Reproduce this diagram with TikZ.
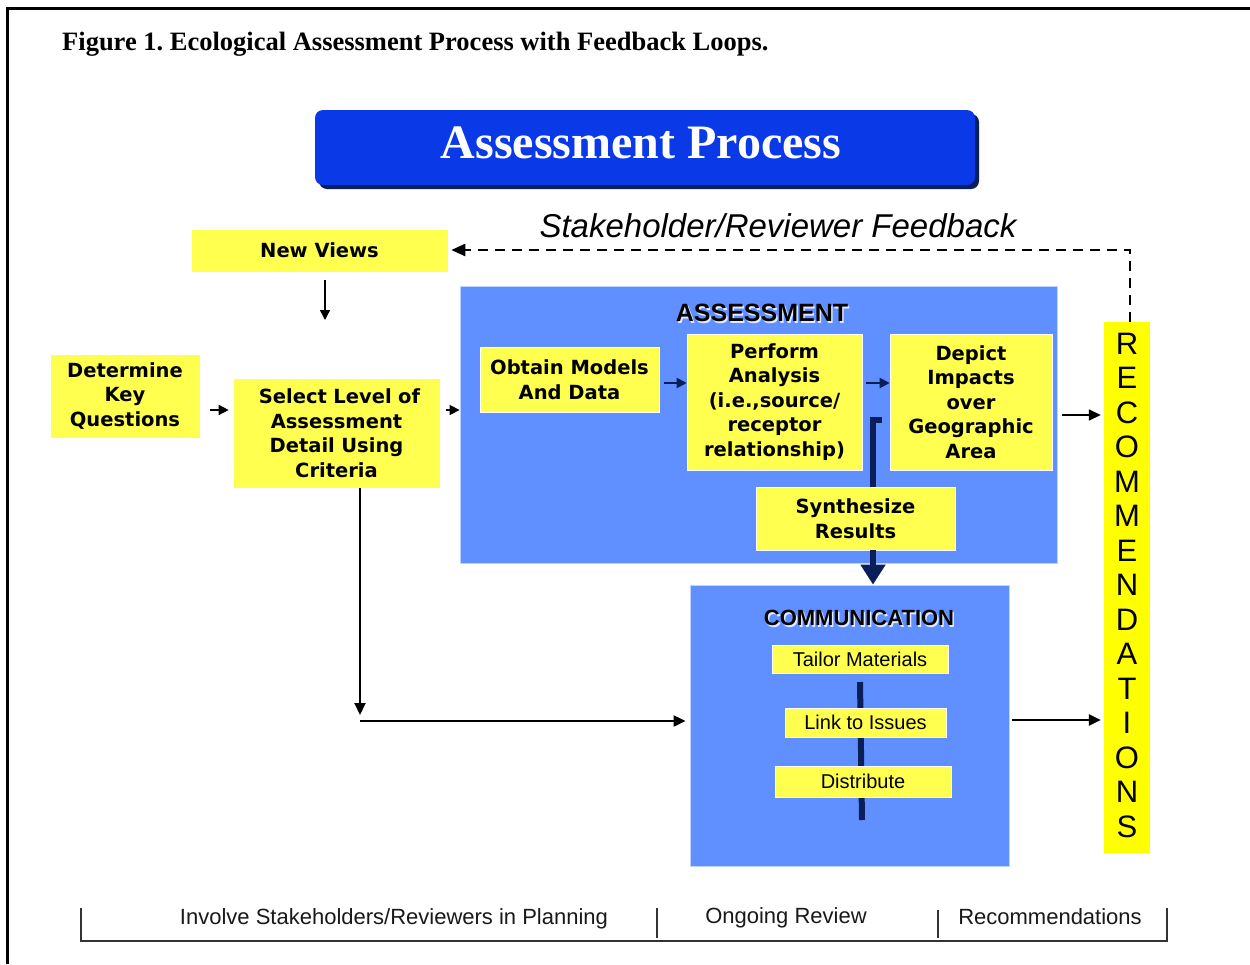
\documentclass[tikz,border=0pt]{standalone}
\usepackage{fontspec}
\setmainfont{Liberation Serif}
\newfontfamily\arial{Liberation Sans}
\newfontfamily\dejav{DejaVu Sans}
\usetikzlibrary{arrows.meta,calc}
\definecolor{yel}{HTML}{FFFF50}
\definecolor{recyel}{HTML}{FFFF00}
\definecolor{panelblue}{HTML}{6090FF}
\definecolor{bannerblue}{HTML}{0A3AE8}
\definecolor{bannershadow}{HTML}{0B1F5E}
\definecolor{navy}{HTML}{0A1E5A}
\frenchspacing
\begin{document}
\begin{tikzpicture}[x=1pt,y=-1pt,
  ybox/.style={fill=yel, inner sep=0pt, align=center, draw=white, line width=0.6pt,
    font=\dejav\bfseries\fontsize{19.5}{24.5}\selectfont},
  cbox/.style={fill=yel, inner sep=0pt, draw=white, line width=0.8pt,
    font=\arial\fontsize{20}{24}\selectfont},
  panel/.style={fill=panelblue, inner sep=0pt, draw=white!60!panelblue, line width=0.8pt},
  blk/.style={draw=black, line width=2pt, -{Triangle[length=12pt,width=11pt]}},
  smallblk/.style={draw=black, line width=1.5pt, -{Triangle[length=10pt,width=10pt]}},
  nvy/.style={draw=navy, line width=2pt, -{Triangle[length=10pt,width=10pt]}},
  ptitle/.style={inner sep=0pt, font=\arial\bfseries\fontsize{25}{30}\selectfont},
  tline/.style={draw=black!80, line width=1.6pt},
  ttext/.style={inner sep=0pt, font=\arial\fontsize{22}{26}\selectfont, text=black!90},
]
\useasboundingbox (0,0) rectangle (1250,964);
\fill[white] (0,0) rectangle (1250,964);
% outer frame
\draw[line width=3pt] (7,964) -- (7,8) -- (1250,8);
% caption
\node[anchor=base west, inner sep=0pt, font=\bfseries\fontsize{26.5}{30}\selectfont] (caption) at (62,50)
  {Figure 1. Ecological Assessment Process with Feedback Loops.};
% banner
\fill[bannershadow, rounded corners=8pt] (319,114) rectangle (979,189);
\node[fill=bannerblue, rounded corners=8pt, minimum width=660pt, minimum height=75pt, inner sep=0pt] (banner) at (645,147.5) {};
\node[text=white, inner sep=0pt, font=\bfseries\fontsize{48}{52}\selectfont] (bannertext) at (641,143) {Assessment Process};
% feedback label
\node[inner sep=0pt, font=\arial\itshape\fontsize{33}{37}\selectfont] (fblabel) at (778,226) {Stakeholder/Reviewer Feedback};
% panels
\node[panel, minimum width=597pt, minimum height=277pt] (assess) at (758.5,424.5) {};
\node[panel, minimum width=319pt, minimum height=281pt] (comm) at (849.5,725.5) {};
\node[ptitle, text=white!80!panelblue] at (763.5,314.5) {ASSESSMENT};
\node[ptitle] (assesstitle) at (762,313) {ASSESSMENT};
\node[ptitle, text=white!80!panelblue, font=\arial\bfseries\fontsize{22}{26}\selectfont] at (860.5,619.5) {COMMUNICATION};
\node[ptitle, font=\arial\bfseries\fontsize{22}{26}\selectfont] (commtitle) at (859,618) {COMMUNICATION};
% left boxes
\node[ybox, minimum width=257pt, minimum height=43pt] (nv) at (319.5,250.5) {New Views};
\node[ybox, minimum width=150pt, minimum height=84pt] (det) at (125,396) {Determine\\Key\\Questions};
\node[ybox, minimum width=207pt, minimum height=110pt, text width=207pt] (sel) at (336.5,433) {\hspace*{6pt}Select Level of\\Assessment\\Detail Using\\Criteria};
% assessment boxes
\node[ybox, minimum width=179pt, minimum height=65pt] (obt) at (569.5,379.5) {Obtain Models\\And Data};
\node[ybox, minimum width=175pt, minimum height=136pt] (perf) at (774.5,402) {Perform\\Analysis\\(i.e.,source/\\receptor\\relationship)};
\node[ybox, minimum width=162pt, minimum height=136pt] (dep) at (971,402) {Depict\\Impacts\\over\\Geographic\\Area};
\coordinate (hook) at (882,420);
\draw[navy, line width=6pt] (hook) -- (873,420) -- (873,488);
\node[ybox, minimum width=199pt, minimum height=63pt] (syn) at (855.5,518.5) {Synthesize\\Results};
% communication inner
\coordinate (ctop) at (860,682);
\coordinate (cbot) at (862,820);
\draw[navy, line width=6pt] (ctop) -- (cbot);
\node[cbox, minimum width=176pt, minimum height=28pt] (tail) at (860,659) {Tailor Materials};
\node[cbox, minimum width=161pt, minimum height=29pt] (link) at (865.5,722.5) {Link to Issues};
\node[cbox, minimum width=176pt, minimum height=31pt] (dist) at (863,781.5) {Distribute};
% recommendations
\node[fill=recyel, inner sep=0pt, minimum width=46pt, minimum height=531pt] (rec) at (1127,587.5) {};
\node[inner sep=0pt, align=center, font=\arial\fontsize{31}{34.5}\selectfont] (rectext) at (1127,585)
  {R\\E\\C\\O\\M\\M\\E\\N\\D\\A\\T\\I\\O\\N\\S};
% connectors
\coordinate (nvend) at (325,320);
\draw[smallblk] (nv.south -| nvend) ++(0,8) -- (nvend);
\draw[smallblk] ($(det.east)+(10,14)$) -- ($(sel.west)+(-4,-23)$);
\draw[smallblk] ($(sel.east)+(6,-23)$) -- ($(assess.west)+(0,-14.5)$);
\draw[nvy] ($(obt.east)+(5,3.5)$) -- ($(perf.west)+(0,-19)$);
\draw[nvy] ($(perf.east)+(4,-19)$) -- ($(dep.west)+(0,-19)$);
\draw[navy, line width=6pt, -{Triangle[length=20pt,width=24pt]}] (syn.south -| 873,0) -- (comm.north -| 873,0);
\coordinate (corner) at (360,715);
\draw[blk] (sel.south -| corner) -- (corner);
\coordinate (hstart) at (360,721);
\draw[blk] (hstart) -- (comm.west |- hstart) [shorten >=4pt];
\draw[blk, line width=1.5pt] ($(dep.east)+(10,13)$) -- ($(rec.west)+(-3,-172.5)$);
\draw[blk, line width=2.5pt] ($(comm.east)+(3,-5.5)$) -- ($(rec.west)+(-3,132.5)$);
\draw[black, line width=2.5pt, dash pattern=on 10pt off 7pt, -{Triangle[length=14pt,width=12pt]}]
  (rec.north -| 1130,0) -- (1130,250) -- ($(nv.east)+(3,-0.5)$);
% timeline
\draw[tline] (81,908) -- (81,941) -- (1167,941) -- (1167,908);
\draw[tline] (657,908) -- (657,938);
\draw[tline] (938,910) -- (938,938);
\node[ttext] (t1) at (394,919) {Involve Stakeholders/Reviewers in Planning};
\node[ttext] (t2) at (786,918) {Ongoing Review};
\node[ttext] (t3) at (1050,917) {Recommendations};
\end{tikzpicture}
\end{document}
